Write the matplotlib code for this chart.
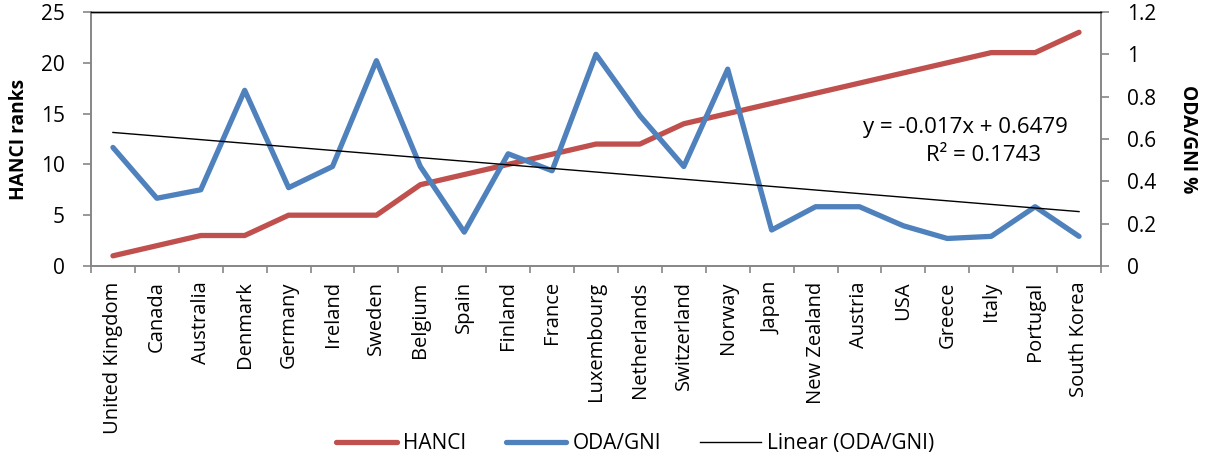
import matplotlib.pyplot as plt
import numpy as np

plt.rcParams['font.family'] = ['Open Sans', 'DejaVu Sans']

countries = ['United Kingdom', 'Canada', 'Australia', 'Denmark', 'Germany', 'Ireland',
             'Sweden', 'Belgium', 'Spain', 'Finland', 'France', 'Luxembourg',
             'Netherlands', 'Switzerland', 'Norway', 'Japan', 'New Zealand', 'Austria',
             'USA', 'Greece', 'Italy', 'Portugal', 'South Korea']
hanci = [1, 2, 3, 3, 5, 5, 5, 8, 9, 10, 11, 12, 12, 14, 15, 16, 17, 18, 19, 20, 21, 21, 23]
oda_gni = [0.56, 0.32, 0.36, 0.83, 0.37, 0.47, 0.97, 0.47, 0.16, 0.53, 0.45, 1.00,
           0.71, 0.47, 0.93, 0.17, 0.28, 0.28, 0.19, 0.13, 0.14, 0.28, 0.14]

red = '#C0504D'
blue = '#4F81BD'
grey = '#868686'

x = np.arange(len(countries))
n = np.arange(1, len(countries) + 1)
slope, intercept = np.polyfit(n, oda_gni, 1)
trend = slope * n + intercept

fig = plt.figure(figsize=(12.1, 4.59), dpi=100)
ax = fig.add_axes([0.0752, 0.4205, 0.8347, 0.5534])
ax2 = ax.twinx()

l1, = ax.plot(x, hanci, color=red, lw=3.8, solid_capstyle='round', label='HANCI')
l2, = ax2.plot(x, oda_gni, color=blue, lw=3.8, solid_capstyle='round', label='ODA/GNI')
l3, = ax2.plot(x, trend, color='black', lw=1.0, label='Linear (ODA/GNI)')

ax.set_xlim(-0.5, len(countries) - 0.5)
ax.set_ylim(0, 25)
ax2.set_ylim(0, 1.2)
ax.set_yticks([0, 5, 10, 15, 20, 25])
ax2.set_yticks([0, 0.2, 0.4, 0.6, 0.8, 1.0, 1.2])
ax2.set_yticklabels(['0', '0.2', '0.4', '0.6', '0.8', '1', '1.2'])

ax.set_xticks(x)
ax.set_xticklabels(countries, rotation=90, fontsize=14.5)
ax.tick_params(axis='x', length=0, pad=11)
ax.set_xticks(np.arange(-0.5, len(countries)), minor=True)
ax.tick_params(axis='x', which='minor', length=5, color=grey, width=1.2)

ax.tick_params(axis='y', labelsize=15, length=6, color=grey, width=1.2, pad=13)
ax2.tick_params(axis='y', labelsize=15, length=6, color=grey, width=1.2, pad=13)

for a in (ax, ax2):
    for s in ['left', 'right', 'bottom']:
        a.spines[s].set_color(grey)
        a.spines[s].set_linewidth(1.2)
    a.spines['top'].set_color('black')
    a.spines['top'].set_linewidth(1.0)

ax.set_ylabel('HANCI ranks', fontsize=13.8, fontweight='bold', labelpad=8)
ax2.set_ylabel('ODA/GNI %', fontsize=13.8, fontweight='bold', rotation=270, labelpad=30)

ax2.text(19.41, 0.655, 'y = -0.017x + 0.6479', ha='center', va='center', fontsize=16)
ax2.text(19.82, 0.52, 'R² = 0.1743', ha='center', va='center', fontsize=16)

fig.legend(handles=[l1, l2, l3], loc='lower center', bbox_to_anchor=(0.525, -0.03),
           ncol=3, frameon=False, fontsize=15, handlelength=2.9, columnspacing=1.9,
           handletextpad=0.3)

fig.savefig('out.png', dpi=100)
